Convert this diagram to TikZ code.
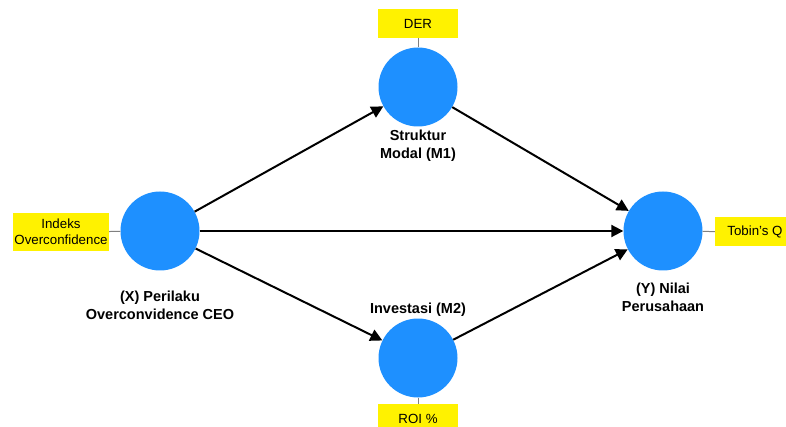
\documentclass[tikz,border=0pt]{standalone}
\usepackage{fontspec}
\setmainfont{Liberation Sans}
\usetikzlibrary{arrows.meta}
\definecolor{lvblue}{RGB}{30,144,255}
\begin{document}
\begin{tikzpicture}[x=1pt,y=-1pt,
  latent/.style={circle,fill=lvblue,minimum size=79pt,inner sep=0pt},
  indicator/.style={fill=yellow,minimum width=80pt,minimum height=29pt,inner sep=0pt,
    font=\fontsize{13.3}{16}\selectfont},
  pathto/.style={line width=2pt,-{Triangle[length=12pt,width=12pt]}},
  link/.style={gray,line width=1pt},
  lbl/.style={align=center,font=\bfseries\fontsize{14.5}{18}\selectfont}]
\useasboundingbox (0,0) rectangle (786,427);
% constructs
\node[latent] (X) at (160,231) {};
\node[latent] (M1) at (418,87) {};
\node[latent] (M2) at (418,358) {};
\node[latent] (Y) at (663,231) {};
% indicators
\node[indicator,minimum width=96pt,minimum height=38pt,align=center] (ix) at (61,232) {Indeks\\Overconfidence};
\node[indicator] (im1) at (418,23.5) {DER};
\node[indicator] (im2) at (418,418.5) {ROI \%};
\node[indicator] (iy) at (755,232) {Tobin's Q};
\draw[link] (ix) -- (X);
\draw[link] (im1) -- (M1);
\draw[link] (im2) -- (M2);
\draw[link] (iy) -- (Y);
% labels
\node[lbl] (lx) at (160,305) {(X) Perilaku\\Overconvidence CEO};
\node[lbl] (lm1) at (418,146) {Struktur\\Modal (M1)};
\node[lbl] (lm2) at (418,310) {Investasi (M2)};
\node[lbl] (ly) at (663,297) {(Y) Nilai\\Perusahaan};
% paths
\draw[pathto] (X) -- (M1);
\draw[pathto] (X) -- (Y);
\draw[pathto] (X) -- (M2);
\draw[pathto] (M1) -- (Y);
\draw[pathto] (M2) -- (Y);
\end{tikzpicture}
\end{document}
